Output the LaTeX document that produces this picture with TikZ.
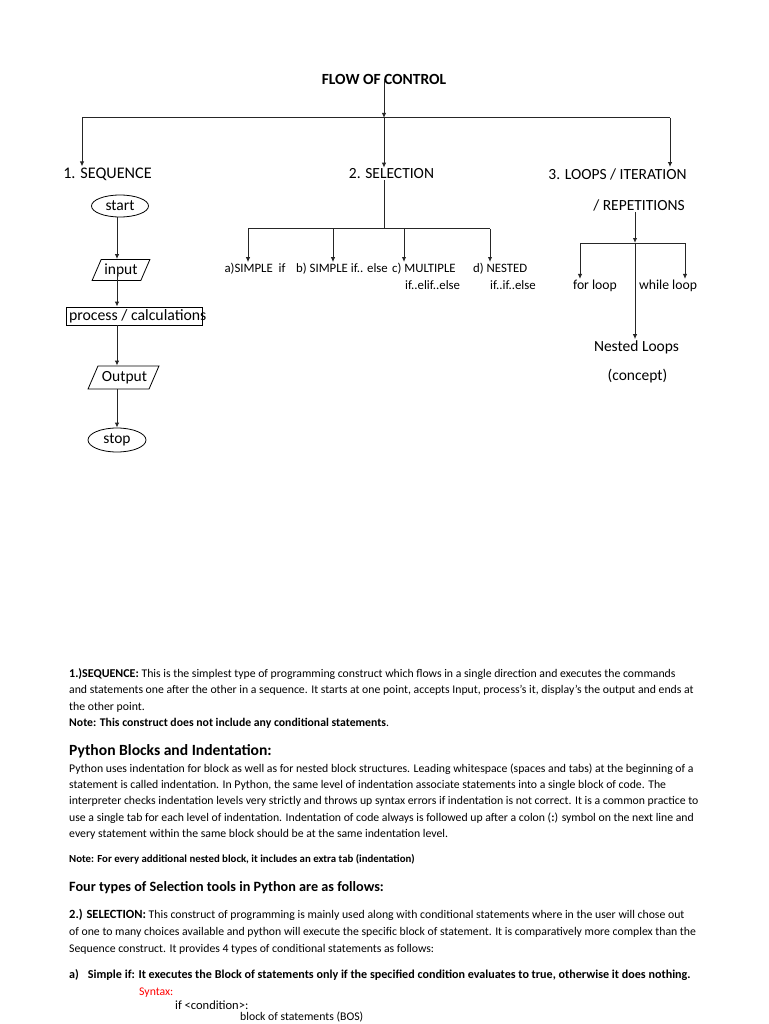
\documentclass[tikz,border=0pt]{standalone}
\usepackage{fontspec}
\setmainfont{Carlito}
\usetikzlibrary{positioning,arrows.meta,shapes.geometric}
\newcommand{\fsz}[2]{\fontsize{#1}{#2}\selectfont}
\tikzset{
  flowarrow/.style={-{Latex[length=5pt,width=4.5pt]}, line width=1pt, black!85},
  flowline/.style={line width=1pt, black!85},
  headlabel/.style={font=\fsz{15.5}{18}, inner sep=1pt},
  sublabel/.style={font=\fsz{12.8}{17}, inner sep=1pt, align=left},
  looplabel/.style={font=\fsz{13.7}{17}, inner sep=1pt},
  ovalnode/.style={draw, ellipse, line width=0.8pt, inner sep=0pt, font=\fsz{15.5}{18}},
  ionode/.style={draw, trapezium, trapezium stretches=true, line width=0.8pt, inner sep=0pt, font=\fsz{15.5}{18}},
  procnode/.style={draw, rectangle, line width=0.8pt, inner xsep=3pt, inner ysep=0pt, minimum height=18pt, font=\fsz{15.8}{18}},
  bodytext/.style={font=\fsz{11.75}{16.3}, align=left, anchor=north west, inner sep=0pt},
  bodyline/.style={font=\fsz{11.75}{16.3}, anchor=base west, inner sep=0pt}
}

\begin{document}
\begin{tikzpicture}[x=1pt, y=-1pt]
  \useasboundingbox (0,0) rectangle (768,1024);

  % main tree
  \node[headlabel, font=\fsz{15.5}{18}\bfseries] (flow) at (384,79) {FLOW OF CONTROL};
  \coordinate (hub) at (384,118);
  \coordinate (lbr) at (82,118);
  \coordinate (rbr) at (670,118);
  \node[headlabel, font=\fsz{16.2}{18}] (seq) at (107.5,174) {1. SEQUENCE};
  \node[headlabel] (sel) at (391.5,174) {2. SELECTION};
  \node[headlabel] (loop) at (617.5,174) {3. LOOPS / ITERATION};
  \node[headlabel] (loopb) at (639,205) {/ REPETITIONS};
  \draw[flowarrow] (flow.center) -- (hub);
  \draw[flowline] (lbr) -- (rbr);
  \draw[flowarrow] (lbr) -- (lbr |- seq.north);
  \draw[flowarrow] (hub) -- (hub |- sel.north);
  \draw[flowarrow] (rbr) -- (rbr |- loop.north);

  % sequence
  \coordinate (col) at (117,206);
  \node[ovalnode, minimum width=57pt, minimum height=22pt] (start) at (120,206) {start};
  \node[ionode, trapezium left angle=60, trapezium right angle=120, minimum width=58pt, minimum height=21pt] (inp) at (121,270) {input};
  \node[procnode] (proc) at (134,316) {\makebox[130pt][l]{process / calculations}};
  \node[ionode, trapezium left angle=54, trapezium right angle=126, minimum width=71pt, minimum height=23pt] (outp) at (123.5,377.5) {\hspace*{2pt}Output};
  \node[ovalnode, minimum width=58pt, minimum height=24pt] (stop) at (117,440) {stop};
  \draw[flowarrow] (start.south -| col) -- (col |- inp.north);
  \draw[flowarrow] (col |- inp.center) -- (col |- proc.north);
  \draw[flowarrow] (col |- proc.south) -- (col |- outp.north);
  \draw[flowarrow] (col |- outp.south) -- (col |- stop.north);

  % selection
  \coordinate (sel0) at (384,229);
  \coordinate (sa0) at (248,229);
  \coordinate (sb0) at (333,229);
  \coordinate (sc0) at (404,229);
  \coordinate (sd0) at (490,229);
  \node[sublabel] (sa) at (255,269) {a)SIMPLE\ \ if};
  \node[sublabel] (sb) at (342,269) {b) SIMPLE if.. else};
  \node[sublabel, anchor=north west] (sc) at (391,262) {c) MULTIPLE\\\hspace*{13pt}if..elif..else};
  \node[sublabel, anchor=north west] (sd) at (472,262) {d) NESTED\\\hspace*{17pt}if..if..else};
  \draw[flowline] (sel.south -| sel0) -- (sel0);
  \draw[flowline] (sa0) -- (sd0);
  \draw[flowarrow] (sa0) -- (sa0 |- sa.north);
  \draw[flowarrow] (sb0) -- (sb0 |- sb.north);
  \draw[flowarrow] (sc0) -- (sc0 |- sc.north);
  \draw[flowarrow] (sd0) -- (sd0 |- sd.north);

  % loops
  \coordinate (lp0) at (635,243);
  \coordinate (fl0) at (580,243);
  \coordinate (wl0) at (685,243);
  \node[looplabel] (fl) at (595,286) {for loop};
  \node[looplabel] (wl) at (668,286) {while loop};
  \node[headlabel] (nl) at (636.5,347) {Nested Loops};
  \node[headlabel] (cn) at (637.5,376) {(concept)};
  \draw[flowarrow] (loopb.south -| lp0) -- (lp0);
  \draw[flowline] (fl0) -- (wl0);
  \draw[flowarrow] (fl0) -- (fl0 |- fl.north);
  \draw[flowarrow] (wl0) -- (wl0 |- wl.north);
  \draw[flowarrow] (lp0) -- (lp0 |- nl.north);

  % text below
  \node[bodytext] (p1) at (69,668.5) {{\fsz{12}{16}\bfseries 1.)SEQUENCE:} This is the simplest type of programming construct which flows in a single direction and executes the commands\\
and statements one after the other in a sequence. It starts at one point, accepts Input, process's it, display's the output and ends at\\
the other point.\\
\textbf{Note: This construct does not include any conditional statements}.};
  \node[bodyline, font=\fsz{15.6}{18}\bfseries] (pbh) at (69,755.6) {Python Blocks and Indentation:};
  \node[bodytext] (p2) at (69,763.5) {Python uses indentation for block as well as for nested block structures. Leading whitespace (spaces and tabs) at the beginning of a\\
statement is called indentation. In Python, the same level of indentation associate statements into a single block of code. The\\
interpreter checks indentation levels very strictly and throws up syntax errors if indentation is not correct. It is a common practice to\\
use a single tab for each level of indentation. Indentation of code always is followed up after a colon (\textbf{:}) symbol on the next line and\\
every statement within the same block should be at the same indentation level.};
  \node[bodyline, font=\fsz{10.8}{16.3}\bfseries] (n2) at (69,862.5) {Note: For every additional nested block, it includes an extra tab (indentation)};
  \node[bodyline, font=\fsz{14.2}{16}\bfseries] (ft) at (69,891.3) {Four types of Selection tools in Python are as follows:};
  \node[bodytext, font=\fsz{11.75}{17}] (p3) at (69,909) {{\fsz{12.5}{16}\bfseries 2.) SELECTION:} This construct of programming is mainly used along with conditional statements where in the user will chose out\\
of one to many choices available and python will execute the specific block of statement. It is comparatively more complex than the\\
Sequence construct. It provides 4 types of conditional statements as follows:};
  \node[bodyline, font=\fsz{12.1}{16.3}\bfseries] (sa1) at (69,978.9) {a)\hspace{9pt}Simple if: It executes the Block of statements only if the specified condition evaluates to true, otherwise it does nothing.};
  \node[bodyline, text=red] (syn) at (139,995) {Syntax:};
  \node[bodyline, font=\fsz{12.5}{16.3}] (ifc) at (175,1009.5) {if <condition>:};
  \node[bodyline] (bos) at (240,1020.6) {block of statements (BOS)};
\end{tikzpicture}
\end{document}
